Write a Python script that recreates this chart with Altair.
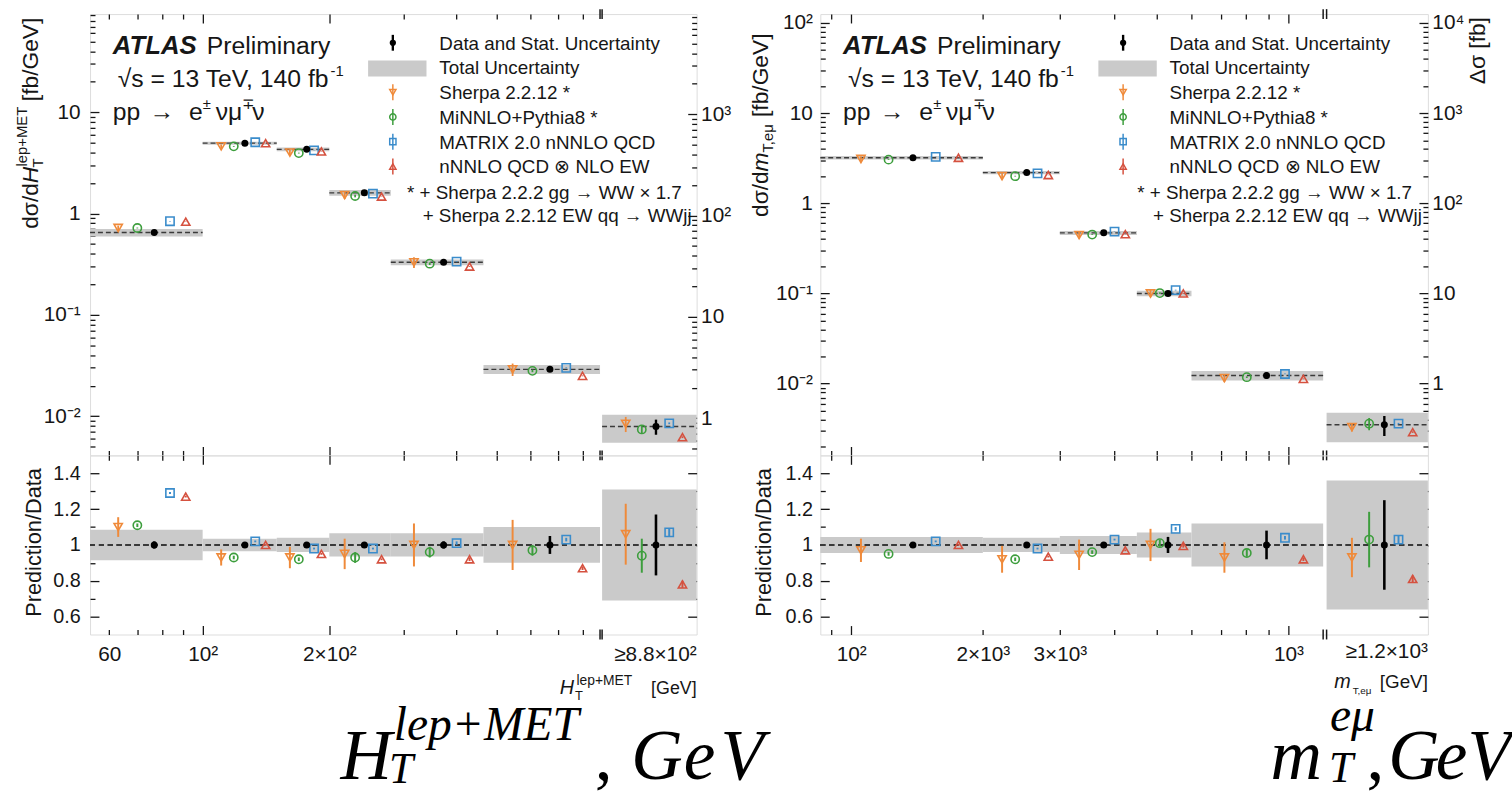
import altair as alt
import numpy as np
import pandas as pd

FONT = "Liberation Sans"
SERIF = "Liberation Serif"
INK = "#161616"
BAND = "#cacaca"

# ---------------- H_T^{lep+MET} distribution (left) ----------------
ht_edges = [54, 100, 150, 200, 280, 465, 880]          # lower bin edges [GeV]; last bin is >= 880 (overflow)
ht_data = [0.65, 4.95, 4.3, 1.6, 0.33, 0.029, 0.0079]  # dsigma/dHT [fb/GeV]
ht_tot = [0.085, 0.035, 0.04, 0.065, 0.065, 0.10, 0.31]  # total rel. uncertainty
ht_stat = [0.02, 0.01, 0.01, 0.012, 0.02, 0.05, 0.17]    # stat. rel. uncertainty
ht_sherpa = [0.72, 4.6, 4.0, 1.52, 0.33, 0.029, 0.0084]
ht_minnlo = [0.72, 4.6, 3.95, 1.49, 0.32, 0.028, 0.0074]
ht_matrix = [0.84, 5.05, 4.2, 1.57, 0.335, 0.030, 0.0085]
ht_ew = [0.83, 4.95, 4.1, 1.47, 0.30, 0.025, 0.0062]
ht_r_sherpa = [1.10, 0.93, 0.93, 0.95, 1.00, 1.00, 1.06]
ht_r_minnlo = [1.11, 0.93, 0.92, 0.93, 0.96, 0.97, 0.94]
ht_r_matrix = [1.29, 1.02, 0.98, 0.98, 1.01, 1.03, 1.07]
ht_r_ew = [1.27, 1.00, 0.95, 0.92, 0.92, 0.87, 0.78]
ht_e_sherpa = [0.055, 0.045, 0.06, 0.085, 0.12, 0.14, 0.17]
ht_e_minnlo = [0.01, 0.01, 0.01, 0.03, 0.03, 0.03, 0.095]
ht_e_matrix = [0.005, 0.005, 0.005, 0.005, 0.01, 0.01, 0.02]
ht_e_ew = [0.005, 0.005, 0.005, 0.005, 0.01, 0.01, 0.02]

# ---------------- m_T,emu distribution (right) ----------------
mt_edges = [85, 200, 300, 450, 600, 1200]               # lower bin edges [GeV]; last bin is >= 1200
mt_data = [3.2, 2.19, 0.47, 0.10, 0.0123, 0.0035]
mt_tot = [0.045, 0.04, 0.05, 0.07, 0.12, 0.36]
mt_stat = [0.01, 0.01, 0.01, 0.045, 0.08, 0.25]
mt_sherpa = [3.1, 2.0, 0.445, 0.10, 0.0115, 0.0033]
mt_minnlo = [3.05, 2.0, 0.45, 0.101, 0.0118, 0.0036]
mt_matrix = [3.27, 2.15, 0.485, 0.109, 0.0128, 0.0036]
mt_ew = [3.2, 2.06, 0.455, 0.10, 0.0113, 0.0029]
mt_r_sherpa = [0.97, 0.92, 0.945, 1.0, 0.93, 0.93]
mt_r_minnlo = [0.95, 0.92, 0.96, 1.01, 0.955, 1.03]
mt_r_matrix = [1.02, 0.98, 1.03, 1.09, 1.04, 1.03]
mt_r_ew = [1.0, 0.935, 0.97, 0.995, 0.92, 0.81]
mt_e_sherpa = [0.065, 0.075, 0.085, 0.09, 0.085, 0.11]
mt_e_minnlo = [0.01, 0.01, 0.01, 0.02, 0.02, 0.155]
mt_e_matrix = [0.005, 0.005, 0.005, 0.01, 0.01, 0.02]
mt_e_ew = [0.005, 0.005, 0.005, 0.01, 0.01, 0.02]

MODELS = [
    ("sherpa", "Sherpa 2.2.12 *", "#ef8a3a", "triangle-down", 0.25),
    ("minnlo", "MiNNLO+Pythia8 *", "#3d9e3d", "circle", 0.42),
    ("matrix", "MATRIX 2.0 nNNLO QCD", "#3a8ccb", "square", 0.71),
    ("ew", "nNNLO QCD \u2297 NLO EW", "#d5513f", "triangle-up", 0.85),
]
DATA_FRAC = 0.57
ONE = pd.DataFrame({"k": [0]})
HT_TOP = 446
HT_RAT = 181


def decades(lo, hi):
    return [float(10.0 ** e) for e in range(-5, 6) if lo <= 10.0 ** e <= hi]


def log_minors(lo, hi):
    out = []
    for e in range(-5, 6):
        for m in range(2, 10):
            v = float(m * 10.0 ** e)
            if lo < v < hi:
                out.append(v)
    return out


def tick_ax(orient, vals, size):
    return alt.Axis(orient=orient, values=[float(v) for v in vals], labels=False, domain=False,
                    ticks=True, tickSize=size, offset=-size, tickColor=INK, tickWidth=1.3,
                    grid=False, title=None)


def lab_ax(orient, vals, expr=None, pad=8, size=21, fmt=None):
    kw = dict(orient=orient, values=[float(v) for v in vals], labels=True, ticks=False, tickSize=0,
              domain=False, grid=False, title=None, labelPadding=pad, labelFontSize=size,
              labelFont=FONT, labelColor=INK, labelOverlap=False, labelFlush=False)
    if expr:
        kw["labelExpr"] = expr
    if fmt:
        kw["format"] = fmt
    return alt.Axis(**kw)


def label(s, x, y, size=19, align="left", angle=0, italic=False, bold=False, font=FONT, color=INK):
    kw = dict(align=align, baseline="alphabetic", fontSize=size, font=font, color=color, angle=angle)
    if italic:
        kw["fontStyle"] = "italic"
    if bold:
        kw["fontWeight"] = "bold"
    return alt.Chart(ONE).mark_text(**kw).encode(x=alt.value(x), y=alt.value(y), text=alt.value(s))


def vrule(x, y1, y2, color, w):
    return alt.Chart(ONE).mark_rule(color=color, strokeWidth=w).encode(
        x=alt.value(x), y=alt.value(y1), y2=alt.value(y2))


def sym(x, y, shape, color, filled=False, size=40):
    return alt.Chart(ONE).mark_point(shape=shape, color=color, filled=filled, size=size,
                                     strokeWidth=1.5, opacity=1).encode(x=alt.value(x), y=alt.value(y))


LOGLAB = ("datum.value < 0.05 ? '10\u207b\u00b2' : datum.value < 0.5 ? '10\u207b\u00b9' : "
          "datum.value < 5 ? '1' : datum.value < 50 ? '10' : '10\u00b2'")


def ds_expr(F):
    v = "(datum.value*%r)" % F
    return (f"{v} < 5 ? '1' : {v} < 50 ? '10' : {v} < 500 ? '10\u00b2' : "
            f"{v} < 5000 ? '10\u00b3' : '10\u2074'")


def build(edges, ovf, data, tot, stat, preds, ratios, errs):
    lo = np.array(list(edges[:-1]) + [ovf[0]], float)
    hi = np.array(list(edges[1:]) + [ovf[1]], float)
    data = np.array(data, float)
    tot = np.array(tot, float)
    stat = np.array(stat, float)

    def at(f):
        return np.exp(np.log(lo) + f * (np.log(hi) - np.log(lo)))

    bins = pd.DataFrame(dict(lo=lo, hi=hi, y=data, blo=data * (1 - tot), bhi=data * (1 + tot),
                             rlo=1 - tot, rhi=1 + tot))
    dat = pd.DataFrame(dict(x=at(DATA_FRAC), y=data, ylo=data * (1 - stat), yhi=data * (1 + stat),
                            r=1.0, rlo=1 - stat, rhi=1 + stat))
    mods = {}
    for key, _, _, _, f in MODELS:
        p = np.array(preds[key], float)
        r = np.array(ratios[key], float)
        e = np.array(errs[key], float)
        mods[key] = pd.DataFrame(dict(x=at(f), y=p, ylo=p * (1 - e), yhi=p * (1 + e), r=r, rlo=r - e, rhi=r + e))
    return bins, dat, mods


def legend_layers():
    L = []
    sx, tx = 306, 353
    rows = [29, 54, 79, 104, 129, 154]
    L.append(vrule(sx, rows[0] - 8, rows[0] + 8, "black", 2.4))
    L.append(sym(sx, rows[0], "circle", "black", filled=True, size=40))
    L.append(label("Data and Stat. Uncertainty", tx, rows[0] + 7, 19))
    L.append(alt.Chart(ONE).mark_rect(color=BAND).encode(
        x=alt.value(281), x2=alt.value(340), y=alt.value(47), y2=alt.value(63)))
    L.append(label("Total Uncertainty", tx, rows[1] + 7, 19))
    for (key, name, color, shape, f), r in zip(MODELS, rows[2:]):
        L.append(vrule(sx, r - 8, r + 8, color, 1.5))
        L.append(sym(sx, r, shape, color, size=40))
        L.append(label(name, tx, r + 7, 19))
    L.append(label("* + Sherpa 2.2.2 gg \u2192 WW \u00d7 1.7", 598, 187, 19, align="right"))
    L.append(label("+ Sherpa 2.2.12 EW qq \u2192 WWjj", 608, 210, 19, align="right"))
    return L


def header_layers():
    return [
        label("ATLAS", 23, 40, 26, bold=True, italic=True),
        label("Preliminary", 118, 40, 25),
        label("\u221as = 13 TeV, 140 fb", 241, 74, 25, align="right"),
        label("-1", 243, 63, 15),
        label("pp", 23, 107, 25),
        label("\u2192", 60, 107, 25),
        label("e", 100, 107, 25),
        label("\u00b1", 114, 96, 15),
        label("\u03bd\u03bc", 127, 107, 25),
        label("\u2213", 154, 96, 15),
        label("\u03bd", 164, 107, 25),
    ]


def top_chart(S, bins, dat, mods):
    xs = alt.Scale(type="log", domain=S["xdom"], nice=False)
    ys = alt.Scale(type="log", domain=S["ydom"], nice=False)
    W, H = S["W"], HT_TOP
    F = S["dsfactor"]

    def X(f, ax=None):
        return alt.X(f + ":Q", scale=xs, axis=ax)

    def Y(f, ax=None):
        return alt.Y(f + ":Q", scale=ys, axis=ax)

    ymaj = decades(*S["ydom"])
    ymin = log_minors(*S["ydom"])
    lo_r, hi_r = S["ydom"][0] * F, S["ydom"][1] * F
    rmaj = [v / F for v in decades(lo_r, hi_r)]
    rmin = [v / F for v in log_minors(lo_r, hi_r)]
    L = []
    L.append(alt.Chart(bins).mark_rect(color=BAND).encode(
        x=X("lo", tick_ax("bottom", S["xmaj"], 9)), x2="hi:Q",
        y=Y("blo", lab_ax("left", ymaj, LOGLAB, pad=S["ypad"])), y2="bhi:Q"))
    L.append(alt.Chart(bins).mark_rule(color="#3a3a3a", strokeDash=[5, 3], strokeWidth=1.4).encode(
        x=X("lo", tick_ax("bottom", S["xmin"], 5)), x2="hi:Q",
        y=Y("y", tick_ax("left", ymaj, 9))))
    for i, (key, name, color, shape, f) in enumerate(MODELS):
        d = mods[key]
        rx = tick_ax("top", S["xmaj"], 9) if i == 0 else None
        ry = tick_ax("left", ymin, 5) if i == 0 else None
        px = tick_ax("top", S["xmin"], 5) if i == 0 else None
        py = tick_ax("right", rmin, 5) if i == 1 else None
        L.append(alt.Chart(d).mark_rule(color=color, strokeWidth=1.8).encode(
            x=X("x", rx), y=Y("ylo", ry), y2="yhi:Q"))
        L.append(alt.Chart(d).mark_point(shape=shape, color=color, filled=False, size=70,
                                          strokeWidth=1.6, opacity=1).encode(
            x=X("x", px), y=Y("y", py)))
    L.append(alt.Chart(dat).mark_rule(color="black", strokeWidth=2.4).encode(
        x=X("x"), y=Y("ylo", tick_ax("right", rmaj, 9)), y2="yhi:Q"))
    L.append(alt.Chart(dat).mark_circle(color="black", size=50, opacity=1).encode(
        x=X("x"), y=Y("y", lab_ax("right", rmaj, ds_expr(F), pad=4))))
    brk = pd.DataFrame({"x": [float(v) for v in S["brk"]]})
    for yy in (0, H):
        L.append(alt.Chart(brk).mark_rule(color=INK, strokeWidth=1.5).encode(
            x=X("x"), y=alt.value(yy - 5), y2=alt.value(yy + 5)))
    L += header_layers()
    L += legend_layers()
    L += S["ytitle"]
    if S.get("dsigma"):
        L.append(label("\u0394\u03c3 [fb]", S["dsigma"], 3, 23, align="right", angle=270))
    return alt.layer(*L).properties(width=W, height=H).resolve_axis(x="independent", y="independent")


def ratio_chart(S, bins, dat, mods):
    xs = alt.Scale(type="log", domain=S["xdom"], nice=False)
    rs = alt.Scale(domain=[0.5, 1.5], nice=False, zero=False)
    W, H = S["W"], HT_RAT

    def X(f, ax=None):
        return alt.X(f + ":Q", scale=xs, axis=ax)

    def Y(f, ax=None):
        return alt.Y(f + ":Q", scale=rs, axis=ax)

    rmaj = [0.6, 0.8, 1.0, 1.2, 1.4]
    rmin = [0.7, 0.9, 1.1, 1.3]
    L = []
    L.append(alt.Chart(bins).mark_rect(color=BAND).encode(
        x=X("lo", lab_ax("bottom", S["xlab"], S["xexpr"], pad=9)), x2="hi:Q",
        y=Y("rlo", lab_ax("left", rmaj, fmt="~g", pad=S["ypad"], size=20)), y2="rhi:Q"))
    L.append(alt.Chart(bins).mark_rule(color="#3a3a3a", strokeDash=[5, 4], strokeWidth=1.5).encode(
        x=alt.value(0), x2=alt.value(W), y=alt.Y(datum=1.0, scale=rs, axis=tick_ax("left", rmaj, 9))))
    for i, (key, name, color, shape, f) in enumerate(MODELS):
        d = mods[key]
        if i == 0:
            ax_r_x, ax_r_y = tick_ax("bottom", S["xmaj"], 9), tick_ax("left", rmin, 5)
            ax_p_x, ax_p_y = tick_ax("bottom", S["xmin"], 5), tick_ax("right", rmaj, 9)
        elif i == 1:
            ax_r_x, ax_r_y = tick_ax("top", S["xmaj"], 9), tick_ax("right", rmin, 5)
            ax_p_x, ax_p_y = tick_ax("top", S["xmin"], 5), None
        else:
            ax_r_x = ax_r_y = ax_p_x = ax_p_y = None
        L.append(alt.Chart(d).mark_rule(color=color, strokeWidth=2).encode(
            x=X("x", ax_r_x), y=Y("rlo", ax_r_y), y2="rhi:Q"))
        L.append(alt.Chart(d).mark_point(shape=shape, color=color, filled=False, size=70,
                                          strokeWidth=1.6, opacity=1).encode(
            x=X("x", ax_p_x), y=Y("r", ax_p_y)))
    L.append(alt.Chart(dat).mark_rule(color="black", strokeWidth=2.6).encode(
        x=X("x"), y=Y("rlo"), y2="rhi:Q"))
    L.append(alt.Chart(dat).mark_circle(color="black", size=50, opacity=1).encode(x=X("x"), y=Y("r")))
    brk = pd.DataFrame({"x": [float(v) for v in S["brk"]]})
    L.append(alt.Chart(brk).mark_rule(color=INK, strokeWidth=1.5).encode(
        x=X("x"), y=alt.value(H - 5), y2=alt.value(H + 5)))
    L.append(label("Prediction/Data", -50, 88, 22, align="center", angle=270))
    L.append(label(S["ovlabel"], W, S["ovy"], 21, align="right"))
    L += S["xtitle"]
    L += S["big"]
    return alt.layer(*L).properties(width=W, height=H).resolve_axis(x="independent", y="independent")


def big_piece(s, x, y, size, italic=True):
    return label(s, x, y, size, font=SERIF, italic=italic, color="#000")


LEFT = dict(
    W=613, xdom=[54, 1493], ovf=(890, 1493), brk=(880, 890),
    ydom=[0.0041, 93], dsfactor=104.6, ypad=10,
    xmaj=[100, 200], xmin=[60, 70, 80, 90, 300, 400, 500, 600, 700, 800],
    xlab=[60, 100, 200],
    xexpr="datum.value < 80 ? '60' : datum.value < 150 ? '10\u00b2' : '2\u00d710\u00b2'",
    ovlabel="\u22658.8\u00d710\u00b2", ovy=208,
    ytitle=[
        label("d\u03c3/d", -53, 217, 23, angle=270),
        label("H", -53, 171, 23, angle=270, italic=True),
        label("T", -48, 155, 15, angle=270),
        label("lep+MET", -64, 154, 15, angle=270),
        label("[fb/GeV]", -53, 88, 23, angle=270),
    ],
    xtitle=[
        label("[GeV]", 613, 241, 18, align="right"),
        label("lep+MET", 548, 232, 14, align="right"),
        label("H", 489, 241, 20, align="right", italic=True),
        label("T", 490, 247, 13),
    ],
    big=[
        big_piece("H", 253, 327, 72),
        big_piece("lep+MET", 307, 288, 48),
        big_piece("T", 302, 331, 44),
        big_piece(",", 510, 327, 72, italic=False),
        big_piece("G", 547, 327, 72),
        big_piece("e", 600, 327, 72),
        big_piece("V", 637, 327, 72),
    ],
)

RIGHT = dict(
    W=614, xdom=[85, 2083], ovf=(1222, 2083), brk=(1200, 1222),
    ydom=[0.0016, 125.5], dsfactor=100.0, ypad=8,
    xmaj=[100, 1000], xmin=[90, 200, 300, 400, 500, 600, 700, 800, 900],
    xlab=[100, 200, 300, 1000],
    xexpr=("datum.value < 150 ? '10\u00b2' : datum.value < 250 ? '2\u00d710\u00b3' : "
           "datum.value < 500 ? '3\u00d710\u00b3' : '10\u00b3'"),
    ovlabel="\u22651.2\u00d710\u00b3", ovy=205, dsigma=672,
    ytitle=[
        label("d\u03c3/d", -53, 205, 23, angle=270),
        label("m", -53, 159, 23, angle=270, italic=True),
        label("T,e\u03bc", -48, 140, 15, angle=270),
        label("[fb/GeV]", -53, 104, 23, angle=270),
    ],
    xtitle=[
        label("[GeV]", 614, 235, 19, align="right"),
        label("m", 536, 235, 20, align="right", italic=True),
        label("T,e\u03bc", 538, 241, 10),
    ],
    big=[
        big_piece("m", 455, 327, 72),
        big_piece("e\u03bc", 515, 279, 48),
        big_piece("T", 514, 330, 44),
        big_piece(",", 552, 327, 72, italic=False),
        big_piece("G", 574, 327, 72),
        big_piece("e", 622, 327, 72),
        big_piece("V", 654, 327, 72),
    ],
)

ht = build(ht_edges, LEFT["ovf"], ht_data, ht_tot, ht_stat,
           dict(sherpa=ht_sherpa, minnlo=ht_minnlo, matrix=ht_matrix, ew=ht_ew),
           dict(sherpa=ht_r_sherpa, minnlo=ht_r_minnlo, matrix=ht_r_matrix, ew=ht_r_ew),
           dict(sherpa=ht_e_sherpa, minnlo=ht_e_minnlo, matrix=ht_e_matrix, ew=ht_e_ew))
mt = build(mt_edges, RIGHT["ovf"], mt_data, mt_tot, mt_stat,
           dict(sherpa=mt_sherpa, minnlo=mt_minnlo, matrix=mt_matrix, ew=mt_ew),
           dict(sherpa=mt_r_sherpa, minnlo=mt_r_minnlo, matrix=mt_r_matrix, ew=mt_r_ew),
           dict(sherpa=mt_e_sherpa, minnlo=mt_e_minnlo, matrix=mt_e_matrix, ew=mt_e_ew))

chart = alt.concat(
    top_chart(LEFT, *ht), top_chart(RIGHT, *mt),
    ratio_chart(LEFT, *ht), ratio_chart(RIGHT, *mt),
    columns=2, spacing={"row": 0, "column": 125}, bounds="flush",
).properties(
    padding={"left": 14, "top": 3, "right": 0, "bottom": 0}
).configure_view(stroke=INK, strokeWidth=1.5).configure(font=FONT)

chart.save("out.html", embed_options={"renderer": "svg", "actions": False})
